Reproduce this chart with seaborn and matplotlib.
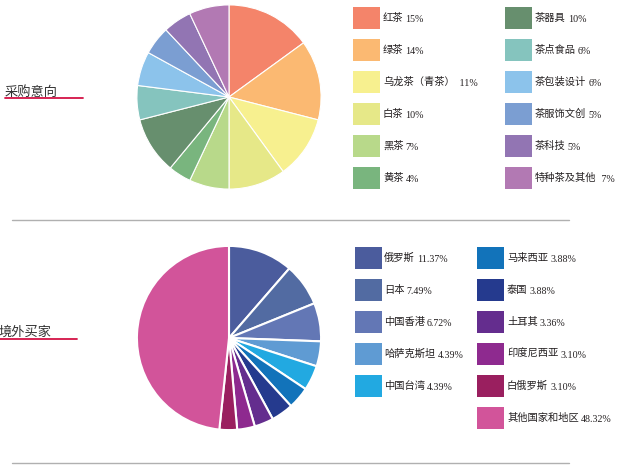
import matplotlib
matplotlib.use("Agg")
import matplotlib.pyplot as plt
import seaborn as sns
from matplotlib.lines import Line2D
from matplotlib.patches import Rectangle

# purchase intention
tea_names = ["红茶", "绿茶", "乌龙茶（青茶）", "白茶", "黑茶", "黄茶",
             "茶器具", "茶点食品", "茶包装设计", "茶服饰文创", "茶科技", "特种茶及其他"]
tea_values = [15, 14, 11, 10, 7, 4, 10, 6, 6, 5, 5, 7]
tea_labels = ["15%", "14%", " 11%", "10%", "7%", "4%",
              "10%", "6%", "6%", "5%", "5%", " 7%"]
tea_colors = ["#F4846A", "#FBB972", "#F7F08F", "#E6E888", "#B8D98A", "#79B57E",
              "#678F6E", "#85C4BE", "#8CC3EB", "#7B9ED2", "#9275B3", "#B279B3"]

# overseas buyers
buyer_names = ["俄罗斯", "日本", "中国香港", "哈萨克斯坦", "中国台湾", "马来西亚",
               "泰国", "土耳其", "印度尼西亚", "白俄罗斯", "其他国家和地区"]
buyer_values = [11.37, 7.49, 6.72, 4.39, 4.39, 3.88, 3.88, 3.36, 3.10, 3.10, 48.32]
buyer_labels = ["11.37%", "7.49%", "6.72%", "4.39%", "4.39%", "3.88%",
                "3.88%", "3.36%", "3.10%", "3.10%", "48.32%"]
buyer_colors = ["#4B5C9D", "#526BA2", "#6377B5", "#5F9BD3", "#22A9E1", "#1273BA",
                "#253A8E", "#642D8E", "#8E2A8F", "#9A1F5F", "#D2549A"]

sns.set_theme(style="white")
plt.rcParams["font.family"] = ["Noto Sans CJK SC", "DejaVu Sans"]

W, H = 619, 474
fig = plt.figure(figsize=(W / 100, H / 100), dpi=100)
fig.patch.set_facecolor("white")

NAME_PT = 7.4
CHAR_PX = NAME_PT * 100 / 72   # CJK glyphs are full width


def px_axes(x0, y0, w, h):
    # pixel box measured from the top-left corner
    return fig.add_axes([x0 / W, 1 - (y0 + h) / H, w / W, h / H])


def draw_pie(cx, cy, r, values, colors, lw):
    ax = px_axes(cx - r, cy - r, 2 * r, 2 * r)
    ax.pie(values, colors=sns.color_palette(colors), startangle=90, counterclock=False,
           radius=1, wedgeprops=dict(edgecolor="white", linewidth=lw))
    ax.set_xlim(-1.01, 1.01)
    ax.set_ylim(-1.01, 1.01)
    ax.axis("off")


def draw_legend(names, labels, colors, cols, top, left_rows):
    for i, (name, lab, col) in enumerate(zip(names, labels, colors)):
        c = 0 if i < left_rows else 1
        r = i if i < left_rows else i - left_rows
        px, tx = cols[c]
        cy = top + r * 32
        fig.patches.append(Rectangle((px / W, 1 - (cy + 11) / H), 27 / W, 22 / H,
                                     transform=fig.transFigure, facecolor=col,
                                     edgecolor="none"))
        fig.text(tx / W, 1 - cy / H, name, fontsize=NAME_PT, color="#231f20",
                 va="center", ha="left")
        lx = tx + len(name) * CHAR_PX + 2
        fig.text(lx / W, 1 - (cy + 1) / H, lab, fontsize=7.2,
                 family=["Liberation Serif", "DejaVu Serif"], color="#231f20",
                 va="center", ha="left")


def draw_title(text, x, y, line_x1, line_y):
    fig.text(x / W, 1 - y / H, text, fontsize=9.5, color="#333333",
             va="center", ha="left")
    fig.add_artist(Line2D([x / W, line_x1 / W], [1 - line_y / H, 1 - line_y / H],
                          transform=fig.transFigure, color="#d31245", linewidth=1.3))


def draw_rule(y):
    fig.add_artist(Line2D([12 / W, 569 / W], [1 - y / H, 1 - y / H],
                          transform=fig.transFigure, color="#b0b0b0", linewidth=1.0))


draw_pie(229, 97, 93, tea_values, tea_colors, 0.8)
draw_pie(229, 338, 93, buyer_values, buyer_colors, 1.5)

draw_legend(tea_names, tea_labels, tea_colors, [(353, 383), (505, 535)], 18, 6)
draw_legend(buyer_names, buyer_labels, buyer_colors, [(355, 384), (477, 507)], 258, 5)

draw_title("采购意向", 5, 92, 83, 98)
draw_title("境外买家", -1, 332, 77, 339)

draw_rule(220)
draw_rule(463)

fig.savefig("out.png", dpi=100, facecolor="white")
